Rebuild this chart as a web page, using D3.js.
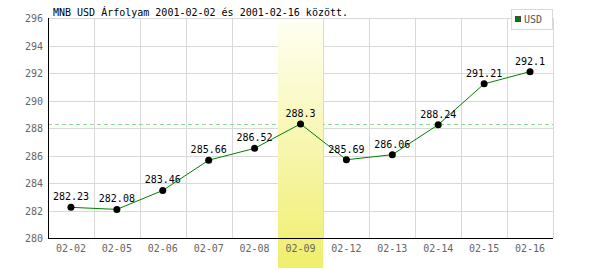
<!DOCTYPE html>
<html lang="hu">
<head>
<meta charset="utf-8">
<title>MNB USD Árfolyam</title>
<script src="https://d3js.org/d3.v7.min.js"></script>
<style>
  body { margin: 0; background: #fff; }
  svg { display: block; }
  text { font-family: "DejaVu Sans Mono", "Liberation Mono", monospace; }
</style>
</head>
<body>
<div id="chart"></div>
<script>
// data
var days = ["02-02", "02-05", "02-06", "02-07", "02-08", "02-09", "02-12", "02-13", "02-14", "02-15", "02-16"];
var usd = [282.23, 282.08, 283.46, 285.66, 286.52, 288.3, 285.69, 286.06, 288.24, 291.21, 292.1];
var yTicks = [280, 282, 284, 286, 288, 290, 292, 294, 296];
var highlightDay = "02-09";
var title = "MNB USD Árfolyam 2001-02-02 és 2001-02-16 között.";
var seriesName = "USD";

var width = 600, height = 270;
var margin = { top: 18, right: 47, bottom: 32, left: 48 };

var svg = d3.select("#chart").append("svg")
    .attr("width", width)
    .attr("height", height);

var x = d3.scaleBand()
    .domain(days)
    .range([margin.left, width - margin.right]);

var y = d3.scaleLinear()
    .domain([280, 296])
    .range([height - margin.bottom, margin.top]);

// gradient for highlighted day
var grad = svg.append("defs").append("linearGradient")
    .attr("id", "hl")
    .attr("x1", 0).attr("y1", 0).attr("x2", 0).attr("y2", 1);
grad.append("stop").attr("offset", "0%").attr("stop-color", "#fffff4");
grad.append("stop").attr("offset", "100%").attr("stop-color", "#f0ee6c");

// grid
var grid = svg.append("g").attr("stroke", "#d9d9d9").attr("stroke-width", 1);
grid.selectAll(".hg")
    .data(yTicks)
    .enter().append("line")
    .attr("x1", margin.left).attr("x2", width - margin.right)
    .attr("y1", function(d) { return Math.round(y(d)) + 0.5; })
    .attr("y2", function(d) { return Math.round(y(d)) + 0.5; });
grid.selectAll(".vg")
    .data(days)
    .enter().append("line")
    .attr("x1", function(d) { return Math.round(x(d) + x.bandwidth()) + 0.5; })
    .attr("x2", function(d) { return Math.round(x(d) + x.bandwidth()) + 0.5; })
    .attr("y1", margin.top).attr("y2", height - margin.bottom);

// highlight level dashed line
var hlValue = usd[days.indexOf(highlightDay)];
svg.append("line")
    .attr("x1", margin.left).attr("x2", width - margin.right)
    .attr("y1", Math.round(y(hlValue)) + 0.5)
    .attr("y2", Math.round(y(hlValue)) + 0.5)
    .attr("stroke", "#8fd88f")
    .attr("stroke-dasharray", "4,3");

// highlighted column
svg.append("rect")
    .attr("x", Math.round(x(highlightDay)))
    .attr("y", margin.top + 1)
    .attr("width", Math.round(x.bandwidth()) - 1)
    .attr("height", height - 3 - margin.top)
    .attr("fill", "url(#hl)");

// axes
svg.append("line")
    .attr("x1", margin.left + 0.5).attr("x2", margin.left + 0.5)
    .attr("y1", margin.top).attr("y2", height - margin.bottom)
    .attr("stroke", "#000");
svg.append("line")
    .attr("x1", margin.left).attr("x2", width - margin.right)
    .attr("y1", height - margin.bottom + 0.5).attr("y2", height - margin.bottom + 0.5)
    .attr("stroke", "#000");

svg.append("g").selectAll("text")
    .data(yTicks)
    .enter().append("text")
    .attr("x", 43)
    .attr("y", function(d) { return y(d) + 4; })
    .attr("text-anchor", "end")
    .attr("font-size", "10px")
    .attr("fill", "#666")
    .text(function(d) { return d; });

svg.append("g").selectAll("text")
    .data(days)
    .enter().append("text")
    .attr("x", function(d) { return x(d) + x.bandwidth() / 2; })
    .attr("y", 252)
    .attr("text-anchor", "middle")
    .attr("font-size", "10px")
    .attr("fill", "#666")
    .text(function(d) { return d; });

// line
var line = d3.line()
    .x(function(d, i) { return x(days[i]) + x.bandwidth() / 2; })
    .y(function(d) { return y(d); });

svg.append("path")
    .datum(usd)
    .attr("fill", "none")
    .attr("stroke", "#008000")
    .attr("stroke-width", 1)
    .attr("d", line);

svg.append("g").selectAll("circle")
    .data(usd)
    .enter().append("circle")
    .attr("cx", function(d, i) { return x(days[i]) + x.bandwidth() / 2; })
    .attr("cy", function(d) { return y(d); })
    .attr("r", 3.5)
    .attr("fill", "#000");

svg.append("g").selectAll("text")
    .data(usd)
    .enter().append("text")
    .attr("x", function(d, i) { return x(days[i]) + x.bandwidth() / 2; })
    .attr("y", function(d) { return y(d) - 7; })
    .attr("text-anchor", "middle")
    .attr("font-size", "10px")
    .attr("fill", "#000")
    .text(function(d) { return d; });

// title
svg.append("text")
    .attr("x", 53)
    .attr("y", 16)
    .attr("font-size", "10px")
    .attr("fill", "#000")
    .text(title);

// legend
var legend = svg.append("g");
legend.append("rect")
    .attr("x", 511.5).attr("y", 9.5)
    .attr("width", 41).attr("height", 20)
    .attr("fill", "#fff")
    .attr("stroke", "#d9d9d9");
legend.append("rect")
    .attr("x", 515.5).attr("y", 16.5)
    .attr("width", 5).attr("height", 5)
    .attr("fill", "#008000")
    .attr("stroke", "#444");
legend.append("text")
    .attr("x", 524)
    .attr("y", 23)
    .attr("font-size", "10px")
    .attr("fill", "#555")
    .text(seriesName);
</script>
</body>
</html>
